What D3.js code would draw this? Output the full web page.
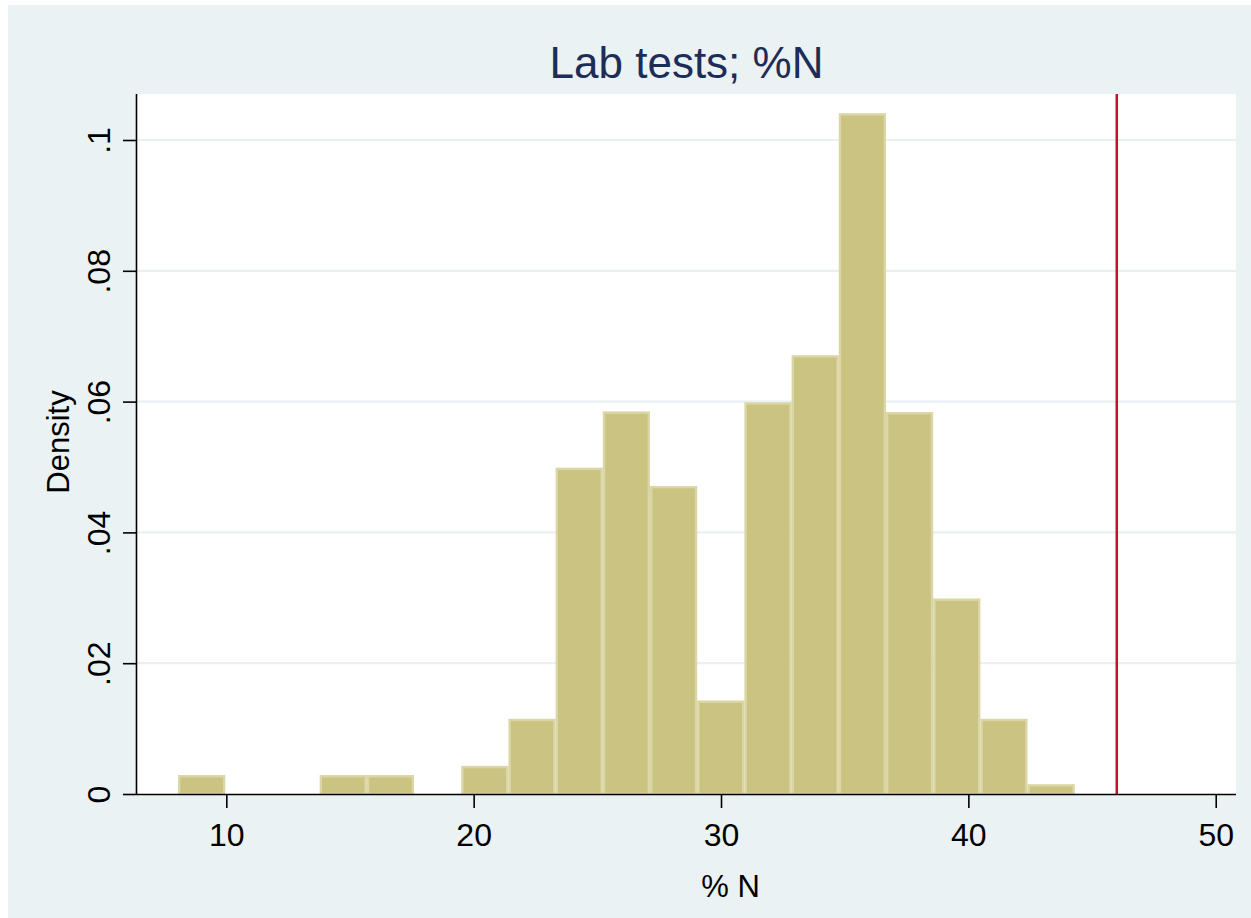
<!DOCTYPE html>
<html>
<head>
<meta charset="utf-8">
<title>Lab tests; %N</title>
<script src="https://cdn.jsdelivr.net/npm/d3@7"></script>
<style>
  html, body { margin: 0; padding: 0; background: #ffffff; }
  svg { display: block; font-family: "Liberation Sans", Arial, Helvetica, sans-serif; }
</style>
</head>
<body>
<svg id="chart" width="1251" height="918"></svg>
<script>
// Histogram of % N from lab tests (density scale)
const binStart = 8.05;
const binWidth = 1.908;
const densities = [0.0029, 0, 0, 0.0029, 0.0029, 0, 0.0043, 0.0115, 0.0499, 0.0585,
                   0.0471, 0.0143, 0.0599, 0.0671, 0.1041, 0.0584, 0.0299, 0.0115, 0.0015];
const xTicks = [10, 20, 30, 40, 50];
const yTicks = [0, 0.02, 0.04, 0.06, 0.08, 0.1];
const yTickLabels = ["0", ".02", ".04", ".06", ".08", ".1"];
const referenceValue = 46;
const titleText = "Lab tests; %N";
const xTitle = "% N";
const yTitle = "Density";

const bins = densities.map((d, i) => ({
  x0: binStart + i * binWidth,
  x1: binStart + (i + 1) * binWidth,
  density: d
}));

const svg = d3.select("#chart");
const plot = { left: 137, right: 1236, top: 94, bottom: 794 };

// outer graph region
svg.append("rect")
  .attr("x", 8).attr("y", 5).attr("width", 1243).attr("height", 913)
  .attr("fill", "#eaf2f3");

// inner plot region
svg.append("rect")
  .attr("x", plot.left).attr("y", plot.top)
  .attr("width", plot.right - plot.left).attr("height", plot.bottom - plot.top)
  .attr("fill", "#ffffff");

const x = d3.scaleLinear().domain([6.39, 50.82]).range([plot.left, plot.right]);
const y = d3.scaleLinear().domain([0, 0.1]).range([plot.bottom, 140]);

// horizontal grid lines
svg.append("g")
  .selectAll("line")
  .data(yTicks.filter(t => t > 0))
  .join("line")
  .attr("x1", plot.left).attr("x2", plot.right)
  .attr("y1", d => y(d)).attr("y2", d => y(d))
  .attr("stroke", "#e8f0f2").attr("stroke-width", 2.2);

// bars
svg.append("g")
  .selectAll("rect")
  .data(bins.filter(b => b.density > 0))
  .join("rect")
  .attr("x", d => x(d.x0) + 1.2)
  .attr("width", d => x(d.x1) - x(d.x0) - 2.4)
  .attr("y", d => y(d.density) + 1.2)
  .attr("height", d => Math.max(0, y(0) - y(d.density) - 1.2))
  .attr("fill", "#cbc382")
  .attr("stroke", "#dbd6a6")
  .attr("stroke-width", 2.4);

// reference line
svg.append("line")
  .attr("x1", x(referenceValue)).attr("x2", x(referenceValue))
  .attr("y1", plot.top).attr("y2", plot.bottom)
  .attr("stroke", "#c8102e").attr("stroke-width", 2.5);

// x axis
const xAxis = d3.axisBottom(x).tickValues(xTicks).tickSize(14).tickPadding(15)
  .tickFormat(d3.format("d"));
const gx = svg.append("g")
  .attr("transform", `translate(0,${plot.bottom})`)
  .call(xAxis);
gx.select(".domain").attr("d", `M${plot.left},0.5H${plot.right}`)
  .attr("stroke", "#000").attr("stroke-width", 1.6);
gx.selectAll(".tick line").attr("stroke", "#000").attr("stroke-width", 1.6);
gx.selectAll(".tick text")
  .attr("font-size", 32).attr("font-family", "Liberation Sans, Arial, sans-serif")
  .attr("fill", "#000");

// y axis
const yAxis = d3.axisLeft(y).tickValues(yTicks).tickSize(14).tickPadding(0)
  .tickFormat((d, i) => yTickLabels[i]);
const gy = svg.append("g")
  .attr("transform", `translate(${plot.left},0)`)
  .call(yAxis);
gy.select(".domain").attr("d", `M-0.5,${plot.top}V${plot.bottom}`)
  .attr("stroke", "#000").attr("stroke-width", 1.6);
gy.selectAll(".tick line").attr("stroke", "#000").attr("stroke-width", 1.6);
gy.selectAll(".tick text")
  .attr("font-size", 32).attr("font-family", "Liberation Sans, Arial, sans-serif")
  .attr("fill", "#000")
  .attr("x", null).attr("dy", null)
  .attr("text-anchor", "middle")
  .attr("transform", "translate(-27,0) rotate(-90)");

// titles
svg.append("text")
  .attr("x", (plot.left + plot.right) / 2).attr("y", 78)
  .attr("text-anchor", "middle")
  .attr("font-size", 44).attr("fill", "#1e2d57")
  .text(titleText);

svg.append("text")
  .attr("x", 730.5).attr("y", 897)
  .attr("text-anchor", "middle")
  .attr("font-size", 31).attr("fill", "#000")
  .text(xTitle);

svg.append("text")
  .attr("transform", `translate(69,${(plot.top + plot.bottom) / 2 - 2}) rotate(-90)`)
  .attr("text-anchor", "middle")
  .attr("font-size", 31).attr("fill", "#000")
  .text(yTitle);
</script>
</body>
</html>
